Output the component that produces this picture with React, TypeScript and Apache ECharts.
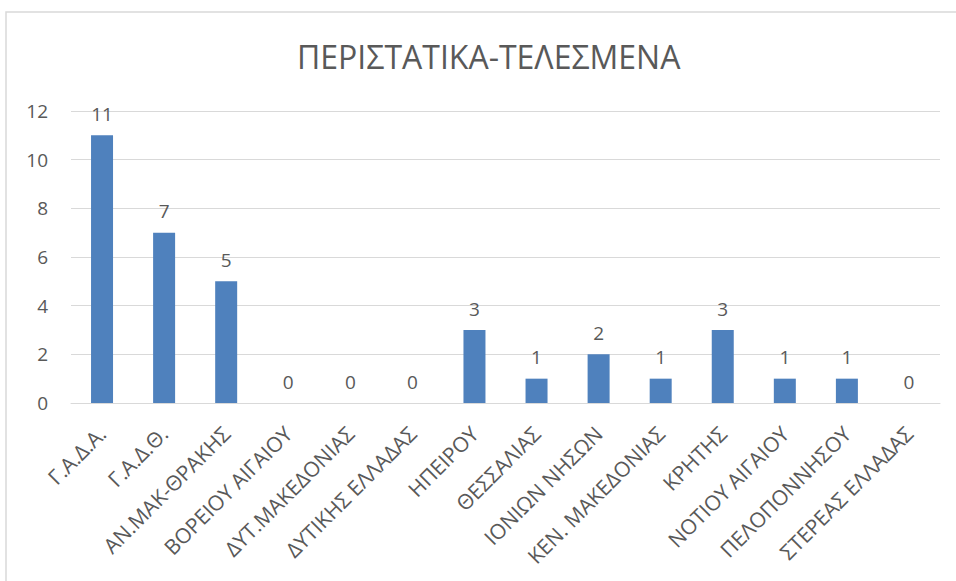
import React, { useEffect, useRef } from "react";
import * as echarts from "echarts";

const title = "ΠΕΡΙΣΤΑΤΙΚΑ-ΤΕΛΕΣΜΕΝΑ";
const categories = [
  "Γ.Α.Δ.Α.",
  "Γ.Α.Δ.Θ.",
  "ΑΝ.ΜΑΚ-ΘΡΑΚΗΣ",
  "ΒΟΡΕΙΟΥ ΑΙΓΑΙΟΥ",
  "ΔΥΤ.ΜΑΚΕΔΟΝΙΑΣ",
  "ΔΥΤΙΚΗΣ ΕΛΛΑΔΑΣ",
  "ΗΠΕΙΡΟΥ",
  "ΘΕΣΣΑΛΙΑΣ",
  "ΙΟΝΙΩΝ ΝΗΣΩΝ",
  "ΚΕΝ. ΜΑΚΕΔΟΝΙΑΣ",
  "ΚΡΗΤΗΣ",
  "ΝΟΤΙΟΥ ΑΙΓΑΙΟΥ",
  "ΠΕΛΟΠΟΝΝΗΣΟΥ",
  "ΣΤΕΡΕΑΣ ΕΛΛΑΔΑΣ",
];
const values = [11, 7, 5, 0, 0, 0, 3, 1, 2, 1, 3, 1, 1, 0];
const yMin = 0;
const yMax = 12;
const yStep = 2;

export default function App() {
  const ref = useRef<HTMLDivElement>(null);
  useEffect(() => {
    if (!ref.current) return;
    const chart = echarts.init(ref.current, undefined, { renderer: "svg" });
    const font = "Open Sans, Noto Sans, sans-serif";
    chart.setOption({
      animation: false,
      backgroundColor: "#ffffff",
      textStyle: { fontFamily: font },
      title: {
        text: title,
        left: 292,
        top: 35,
        textStyle: {
          fontFamily: font,
          fontSize: 32,
          fontWeight: "normal",
          color: "#595959",
        },
      },
      graphic: [
        {
          type: "rect",
          shape: { x: 6, y: 12, width: 1000, height: 1000 },
          style: { fill: "none", stroke: "#d9d9d9", lineWidth: 1.5 },
          silent: true,
        },
      ],
      grid: { left: 71, right: 16, top: 111, bottom: 178, containLabel: false },
      xAxis: {
        type: "category",
        data: categories,
        axisLine: { show: true, lineStyle: { color: "#d9d9d9" } },
        axisTick: { show: false },
        axisLabel: {
          rotate: 45,
          interval: 0,
          margin: 27,
          color: "#595959",
          fontSize: 21,
          fontFamily: font,
        },
      },
      yAxis: {
        type: "value",
        min: yMin,
        max: yMax,
        interval: yStep,
        axisLine: { show: false },
        axisTick: { show: false },
        splitLine: { lineStyle: { color: "#d9d9d9" } },
        axisLabel: { color: "#595959", fontSize: 19, margin: 23, fontFamily: font },
      },
      series: [
        {
          type: "bar",
          data: values,
          barWidth: 22,
          itemStyle: { color: "#4f81bd" },
          label: {
            show: true,
            position: "top",
            distance: 12,
            color: "#595959",
            fontSize: 19,
            fontFamily: font,
          },
        },
      ],
    });
    return () => chart.dispose();
  }, []);
  return (
    <div
      ref={ref}
      style={{ position: "absolute", left: 0, top: 0, width: 956, height: 581 }}
    />
  );
}
